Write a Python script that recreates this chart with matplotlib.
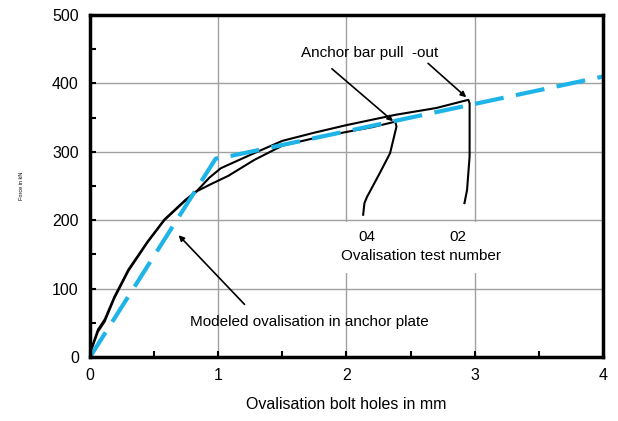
import numpy as np
import matplotlib
matplotlib.use("Agg")
from matplotlib import pyplot as plt
from matplotlib.patches import Rectangle

plt.rcParams['font.family'] = ['Liberation Sans', 'DejaVu Sans']

# test 04 (ovalisation vs force)
t04_x = [0, 0.01, 0.062, 0.115, 0.19, 0.30, 0.45, 0.58, 0.74, 0.84, 0.946, 1.08, 1.28, 1.50, 1.75, 2.0, 2.2, 2.38,
         2.39, 2.34, 2.26, 2.16, 2.14, 2.13]
t04_y = [0, 10, 37, 52, 86, 126, 168, 200, 228, 243, 253, 265, 288, 309, 320, 329, 336, 344,
         337, 298, 269, 234, 225, 208]
# test 02
t02_x = [0, 0.01, 0.062, 0.115, 0.19, 0.30, 0.45, 0.58, 0.74, 0.84, 0.93, 1.02, 1.28, 1.50, 1.75, 2.0, 2.38, 2.7,
         2.95, 2.96, 2.96, 2.94, 2.92]
t02_y = [0, 12, 40, 55, 88, 128, 169, 201, 229, 244, 262, 276, 298, 316, 328, 339, 354, 364,
         376, 371, 293, 244, 225]
# modeled ovalisation
mod_x = [0, 0.98, 1.1, 4.0]
mod_y = [0, 290, 294, 410]

fig = plt.figure(figsize=(6.18, 4.21), dpi=100)
ax = fig.add_axes([0.1456, 0.152, 0.8301, 0.8124])

ax.plot(t04_x, t04_y, color='black', lw=1.5, zorder=3)
ax.plot(t02_x, t02_y, color='black', lw=1.5, zorder=3)
ax.plot(mod_x, mod_y, color='#1EB4E8', lw=3, dashes=(7, 3), zorder=4)

ax.set_xlim(0, 4)
ax.set_ylim(0, 500)
ax.set_xticks([0, 1, 2, 3, 4])
ax.set_yticks([0, 100, 200, 300, 400, 500])
ax.set_xticks(np.arange(0.5, 4, 1), minor=True)
ax.set_yticks(np.arange(50, 500, 100), minor=True)
ax.grid(True, which='major', color='#a0a0a0', lw=1)
ax.tick_params(which='both', direction='in', length=4, width=1.5, labelsize=11.5, pad=8)
for s in ax.spines.values():
    s.set_linewidth(2.5)
    s.set_zorder(5)

# white box behind test number labels
ax.add_patch(Rectangle((1.95, 123), 1.35, 74, facecolor='white', edgecolor='none', zorder=2))
ax.text(2.16, 176, '04', ha='center', va='center', fontsize=11, zorder=6)
ax.text(2.87, 176, '02', ha='center', va='center', fontsize=11, zorder=6)
ax.text(2.58, 147, 'Ovalisation test number', ha='center', va='center', fontsize=11, zorder=6)

ax.text(2.18, 444, 'Anchor bar pull  -out', ha='center', va='center', fontsize=11, zorder=6)
ax.annotate('', xy=(2.38, 342), xytext=(1.87, 424),
            arrowprops=dict(arrowstyle='-|>', color='black', lw=1.2, mutation_scale=8), zorder=6)
ax.annotate('', xy=(2.95, 377), xytext=(2.62, 432),
            arrowprops=dict(arrowstyle='-|>', color='black', lw=1.2, mutation_scale=8), zorder=6)

ax.text(1.71, 51, 'Modeled ovalisation in anchor plate', ha='center', va='center', fontsize=11, zorder=6)
ax.annotate('', xy=(0.676, 181), xytext=(1.22, 74),
            arrowprops=dict(arrowstyle='-|>', color='black', lw=1.2, mutation_scale=8), zorder=6)

ax.set_xlabel('Ovalisation bolt holes in mm', fontsize=11.5, labelpad=10)
ax.set_ylabel('Force in kN', fontsize=4, labelpad=20)

fig.savefig('out.png', dpi=100)
plt.close(fig)
